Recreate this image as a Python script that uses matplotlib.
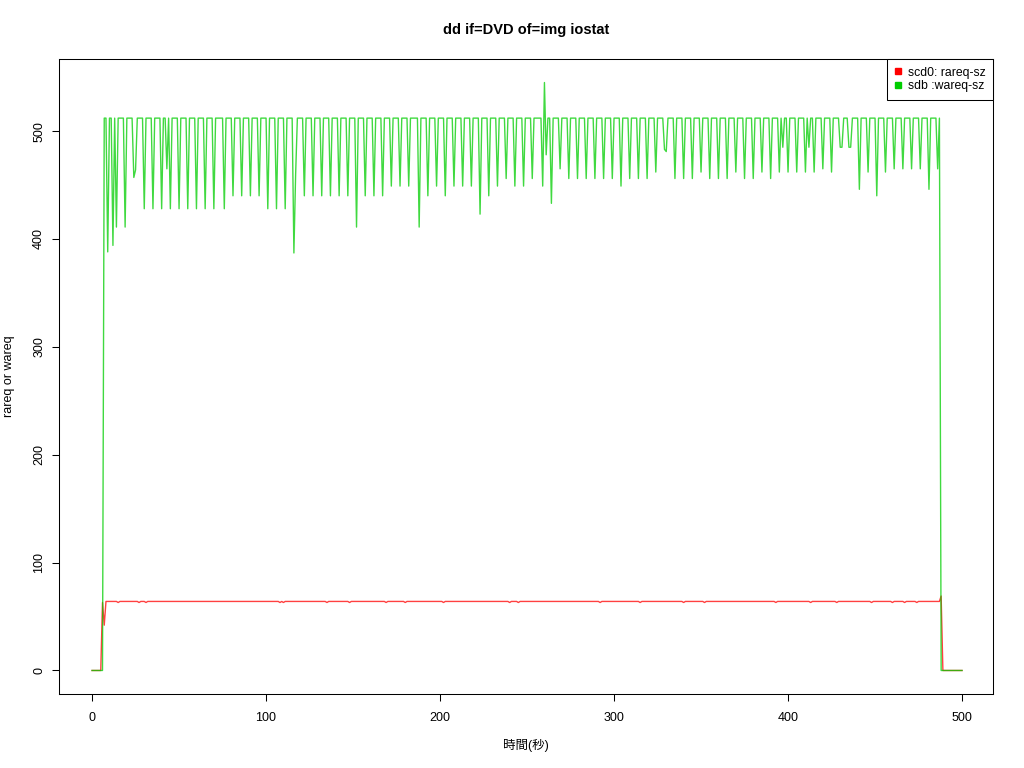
import numpy as np
import matplotlib
matplotlib.use("Agg")
import matplotlib.pyplot as plt
from matplotlib.lines import Line2D

plt.rcParams['font.family'] = ['Liberation Sans', 'Noto Sans CJK JP', 'DejaVu Sans']

# ---- data (one sample per second, 0..500) ----
time_sec = list(range(0, 501))

scd0_rareq = [
    0, 0, 0, 0, 0, 0, 63, 42, 64, 64,
    64, 64, 64, 64, 64, 63, 64, 64, 64, 64,
    64, 64, 64, 64, 64, 64, 64, 63, 64, 64,
    64, 63, 64, 64, 64, 64, 64, 64, 64, 64,
    64, 64, 64, 64, 64, 64, 64, 64, 64, 64,
    64, 64, 64, 64, 64, 64, 64, 64, 64, 64,
    64, 64, 64, 64, 64, 64, 64, 64, 64, 64,
    64, 64, 64, 64, 64, 64, 64, 64, 64, 64,
    64, 64, 64, 64, 64, 64, 64, 64, 64, 64,
    64, 64, 64, 64, 64, 64, 64, 64, 64, 64,
    64, 64, 64, 64, 64, 64, 64, 64, 63, 64,
    63, 64, 64, 64, 64, 64, 64, 64, 64, 64,
    64, 64, 64, 64, 64, 64, 64, 64, 64, 64,
    64, 64, 64, 64, 64, 63, 64, 64, 64, 64,
    64, 64, 64, 64, 64, 64, 64, 64, 63, 64,
    64, 64, 64, 64, 64, 64, 64, 64, 64, 64,
    64, 64, 64, 64, 64, 64, 64, 64, 64, 63,
    64, 64, 64, 64, 64, 64, 64, 64, 64, 64,
    63, 64, 64, 64, 64, 64, 64, 64, 64, 64,
    64, 64, 64, 64, 64, 64, 64, 64, 64, 64,
    64, 64, 63, 64, 64, 64, 64, 64, 64, 64,
    64, 64, 64, 64, 64, 64, 64, 64, 64, 64,
    64, 64, 64, 64, 64, 64, 64, 64, 64, 64,
    64, 64, 64, 64, 64, 64, 64, 64, 64, 64,
    63, 64, 64, 64, 64, 63, 64, 64, 64, 64,
    64, 64, 64, 64, 64, 64, 64, 64, 64, 64,
    64, 64, 64, 64, 64, 64, 64, 64, 64, 64,
    64, 64, 64, 64, 64, 64, 64, 64, 64, 64,
    64, 64, 64, 64, 64, 64, 64, 64, 64, 64,
    64, 64, 63, 64, 64, 64, 64, 64, 64, 64,
    64, 64, 64, 64, 64, 64, 64, 64, 64, 64,
    64, 64, 64, 64, 64, 63, 64, 64, 64, 64,
    64, 64, 64, 64, 64, 64, 64, 64, 64, 64,
    64, 64, 64, 64, 64, 64, 64, 64, 64, 64,
    63, 64, 64, 64, 64, 64, 64, 64, 64, 64,
    64, 64, 63, 64, 64, 64, 64, 64, 64, 64,
    64, 64, 64, 64, 64, 64, 64, 64, 64, 64,
    64, 64, 64, 64, 64, 64, 64, 64, 64, 64,
    64, 64, 64, 64, 64, 64, 64, 64, 64, 64,
    64, 64, 64, 63, 64, 64, 64, 64, 64, 64,
    64, 64, 64, 64, 64, 64, 64, 64, 64, 64,
    64, 64, 64, 63, 64, 64, 64, 64, 64, 64,
    64, 64, 64, 64, 64, 64, 64, 64, 63, 64,
    64, 64, 64, 64, 64, 64, 64, 64, 64, 64,
    64, 64, 64, 64, 64, 64, 64, 64, 63, 64,
    64, 64, 64, 64, 64, 64, 64, 64, 64, 64,
    63, 64, 64, 64, 64, 64, 64, 63, 64, 64,
    64, 64, 64, 64, 63, 64, 64, 64, 64, 64,
    64, 64, 64, 64, 64, 64, 64, 64, 69, 0,
    0, 0, 0, 0, 0, 0, 0, 0, 0, 0,
    0,
]

sdb_wareq = [
    0, 0, 0, 0, 0, 0, 0, 512, 512, 388,
    512, 512, 394, 512, 411, 512, 512, 512, 512, 411,
    512, 512, 512, 512, 457, 464, 512, 512, 512, 512,
    428, 512, 512, 512, 512, 428, 512, 512, 512, 512,
    428, 512, 512, 465, 512, 428, 512, 512, 512, 512,
    428, 512, 512, 512, 512, 428, 512, 512, 512, 512,
    428, 512, 512, 512, 512, 428, 512, 512, 512, 512,
    428, 512, 512, 512, 512, 512, 428, 512, 512, 512,
    512, 440, 512, 512, 512, 512, 440, 512, 512, 512,
    512, 440, 512, 512, 512, 512, 440, 512, 512, 512,
    512, 428, 512, 512, 512, 512, 428, 512, 512, 512,
    512, 428, 512, 512, 512, 512, 387, 460, 512, 512,
    512, 512, 440, 512, 512, 512, 512, 440, 512, 512,
    512, 512, 440, 512, 512, 512, 512, 440, 512, 512,
    512, 512, 440, 512, 512, 512, 512, 440, 512, 512,
    512, 512, 411, 512, 512, 512, 512, 440, 512, 512,
    512, 512, 440, 512, 512, 512, 512, 440, 512, 512,
    512, 512, 449, 512, 512, 512, 512, 449, 512, 512,
    512, 512, 449, 512, 512, 512, 512, 512, 411, 512,
    512, 512, 512, 440, 512, 512, 512, 512, 449, 512,
    512, 512, 512, 440, 512, 512, 512, 512, 449, 512,
    512, 512, 512, 449, 512, 512, 512, 512, 449, 512,
    512, 512, 512, 423, 512, 512, 512, 512, 440, 512,
    512, 512, 512, 449, 512, 512, 512, 512, 456, 512,
    512, 512, 512, 449, 512, 512, 512, 512, 449, 512,
    512, 512, 512, 456, 512, 512, 512, 512, 512, 449,
    545, 478, 512, 512, 433, 512, 512, 512, 512, 465,
    512, 512, 512, 512, 456, 512, 512, 512, 512, 456,
    512, 512, 512, 512, 456, 512, 512, 512, 512, 456,
    512, 512, 512, 512, 456, 512, 512, 512, 512, 456,
    512, 512, 512, 512, 449, 512, 512, 512, 512, 456,
    512, 512, 512, 512, 456, 512, 512, 512, 512, 456,
    512, 512, 512, 512, 462, 512, 512, 512, 512, 483,
    481, 512, 512, 512, 512, 456, 512, 512, 512, 512,
    456, 512, 512, 512, 512, 456, 512, 512, 512, 512,
    462, 512, 512, 512, 512, 456, 512, 512, 512, 512,
    456, 512, 512, 512, 512, 456, 512, 512, 512, 512,
    462, 512, 512, 512, 512, 456, 512, 512, 512, 512,
    456, 512, 512, 512, 512, 462, 512, 512, 512, 512,
    456, 512, 512, 512, 512, 462, 512, 485, 512, 512,
    462, 512, 512, 512, 512, 462, 512, 512, 512, 512,
    462, 512, 485, 512, 512, 462, 512, 512, 512, 512,
    465, 512, 512, 512, 512, 462, 512, 512, 512, 512,
    485, 485, 512, 512, 512, 485, 485, 512, 512, 512,
    512, 446, 512, 512, 512, 512, 462, 512, 512, 512,
    512, 440, 512, 512, 512, 512, 462, 512, 512, 512,
    512, 465, 512, 512, 512, 512, 465, 512, 512, 512,
    512, 465, 512, 512, 512, 512, 465, 512, 512, 512,
    512, 446, 512, 512, 512, 512, 465, 512, 0, 0,
    0, 0, 0, 0, 0, 0, 0, 0, 0, 0,
    0,
]

x_ticks = [0, 100, 200, 300, 400, 500]
y_ticks = [0, 100, 200, 300, 400, 500]
series_labels = ['scd0: rareq-sz', 'sdb :wareq-sz']
series_colors = ['#FF0000', '#00CD00']
title_text = 'dd if=DVD of=img iostat'
xlabel_text = '時間(秒)'
ylabel_text = 'rareq or wareq'

# ---- figure ----
W, H = 1024, 768
fig = plt.figure(figsize=(W / 100, H / 100), dpi=100)
ax = fig.add_axes([59 / W, 1 - 694 / H, (993 - 59) / W, (694 - 59) / H])

ax.plot(time_sec, scd0_rareq, color=series_colors[0], lw=1.0, alpha=0.75)
ax.plot(time_sec, sdb_wareq, color=series_colors[1], lw=1.0, alpha=0.75)

# R-style 4% y-axis extension; x limits matched to the reference frame
ymin = min(min(scd0_rareq), min(sdb_wareq))
ymax = max(max(scd0_rareq), max(sdb_wareq))
dy = (ymax - ymin) * 0.04
ax.set_xlim(-19.0, 517.8)
ax.set_ylim(ymin - dy, ymax + dy)

ax.set_xticks(x_ticks)
ax.set_xticklabels([str(t) for t in x_ticks])
ax.set_yticks(y_ticks)
ax.set_yticklabels([str(t) for t in y_ticks], rotation=90, va='center')
ax.tick_params(direction='out', length=5.0, width=0.75, labelsize=9,
               color='black', labelcolor='black')
ax.tick_params(axis='x', pad=8)
ax.tick_params(axis='y', pad=5)
for s in ax.spines.values():
    s.set_linewidth(0.75)
    s.set_color('black')

fig.text(526 / W, 1 - 30 / H, title_text, ha='center', va='center',
         fontsize=10.5, fontweight='bold')
fig.text(526 / W, 1 - 745 / H, xlabel_text, ha='center', va='center',
         fontsize=9)
fig.text(9 / W, 1 - 376 / H, ylabel_text, ha='center', va='center',
         rotation=90, fontsize=9)

handles = [Line2D([], [], marker='s', linestyle='none', color=c, markersize=4.5)
           for c in series_colors]
leg = ax.legend(handles, series_labels, loc='upper right', borderaxespad=0,
                fontsize=8.8, fancybox=False, framealpha=1, edgecolor='black',
                handlelength=0.6, handletextpad=0.5, borderpad=0.62,
                labelspacing=0.15)
leg.get_frame().set_linewidth(0.75)

fig.savefig('out.png', dpi=100)
